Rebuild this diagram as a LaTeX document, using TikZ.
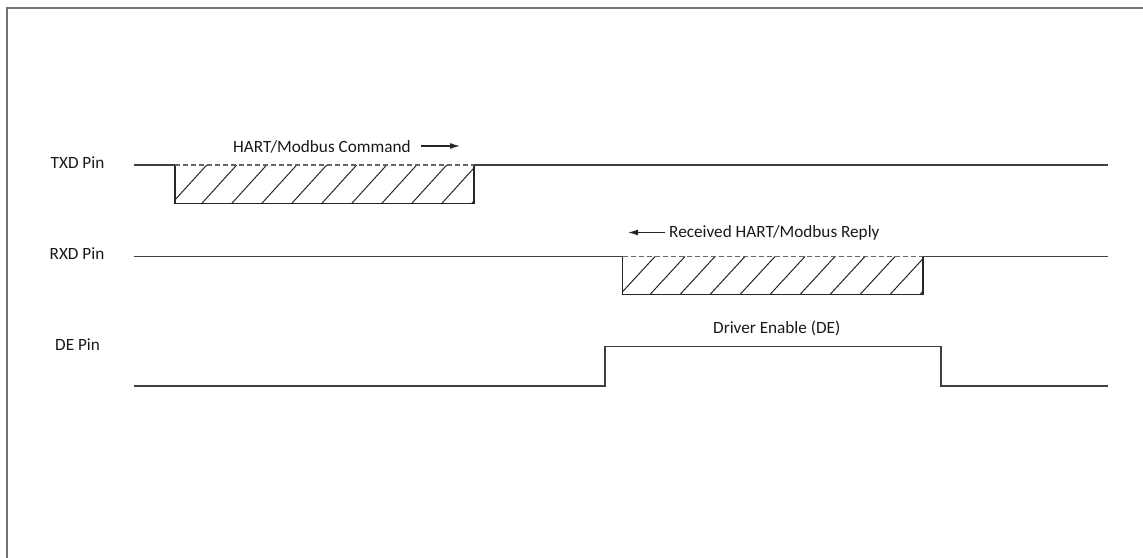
\documentclass[tikz,border=0pt]{standalone}
\usepackage{fontspec}
\setmainfont{Carlito}
\usetikzlibrary{arrows.meta}
\tikzset{
  sig/.style={draw=black!75, line width=1.3pt},
  boxedge/.style={draw=black!85, line width=1.2pt},
  dashtop/.style={draw=black!60, line width=1.2pt, dash pattern=on 5pt off 3pt},
  hatch/.style={draw=black!85, line width=1pt},
  lbl/.style={inner sep=0pt, anchor=base west, font=\fontsize{17.2pt}{19pt}\selectfont, text=black!90},
  arr/.style={draw=black!85, line width=1.2pt, -{Latex[length=10pt,width=6pt]}},
  frame/.style={draw=black!55, line width=2pt}
}
\begin{document}
\begin{tikzpicture}[x=1pt,y=-1pt]
\useasboundingbox (0,0) rectangle (1143,557);
\clip (0,0) rectangle (1143,557);
\draw[frame] (7,8) rectangle (1160,580);

% labels
\node[lbl] (txd) at (50.5,168) {TXD Pin};
\node[lbl] (rxd) at (49.5,259) {RXD Pin};
\node[lbl] (de) at (55,350) {DE Pin};

% TXD signal
\coordinate (t0) at (134,165);
\coordinate (t1) at (175,165);
\coordinate (t2) at (474,165);
\coordinate (t3) at (1108,165);
\coordinate (tb1) at (175,203.5);
\coordinate (tb2) at (474,203.5);
\begin{scope}
\clip (t1) rectangle (tb2);
\foreach \k in {0,...,11} {
  \draw[hatch] ({171.7+30*\k},203.5) -- ({206.7+30*\k},165);
}
\end{scope}
\draw[sig] (t0) -- (t1);
\draw[boxedge] (t1) -- (tb1) -- (tb2) -- (t2);
\draw[dashtop] (t1) -- (t2);
\draw[sig] (t2) -- (t3);

% RXD signal
\coordinate (r0) at (134,256.5);
\coordinate (r1) at (622.5,256.5);
\coordinate (r2) at (923,256.5);
\coordinate (r3) at (1108,256.5);
\coordinate (rb1) at (622.5,294.5);
\coordinate (rb2) at (923,294.5);
\begin{scope}
\clip (r1) rectangle (rb2);
\foreach \k in {0,...,11} {
  \draw[hatch] ({620+30*\k},294.5) -- ({655+30*\k},256.5);
}
\end{scope}
\draw[sig] (r0) -- (r1);
\draw[boxedge] (r1) -- (rb1) -- (rb2) -- (r2);
\draw[dashtop] (r1) -- (r2);
\draw[sig] (r2) -- (r3);

% DE signal
\coordinate (d0) at (134,386);
\coordinate (d1) at (605,386);
\coordinate (d2) at (605,346.5);
\coordinate (d3) at (941,346.5);
\coordinate (d4) at (941,386);
\coordinate (d5) at (1108,386);
\draw[sig] (d0) -- (d1) -- (d2) -- (d3) -- (d4) -- (d5);

% annotations
\node[lbl] (cmd) at (233,152.5) {HART/Modbus Command};
\coordinate (cs) at (421,146);
\coordinate (ca) at (460,146);
\draw[arr] (cs) -- (ca);

\node[lbl] (rep) at (669,237.5) {Received HART/Modbus Reply};
\coordinate (rs) at (665,232.5);
\coordinate (ra) at (628,232.5);
\draw[arr] (rs) -- (ra);

\node[lbl] (den) at (713,333) {Driver Enable (DE)};
\end{tikzpicture}
\end{document}
